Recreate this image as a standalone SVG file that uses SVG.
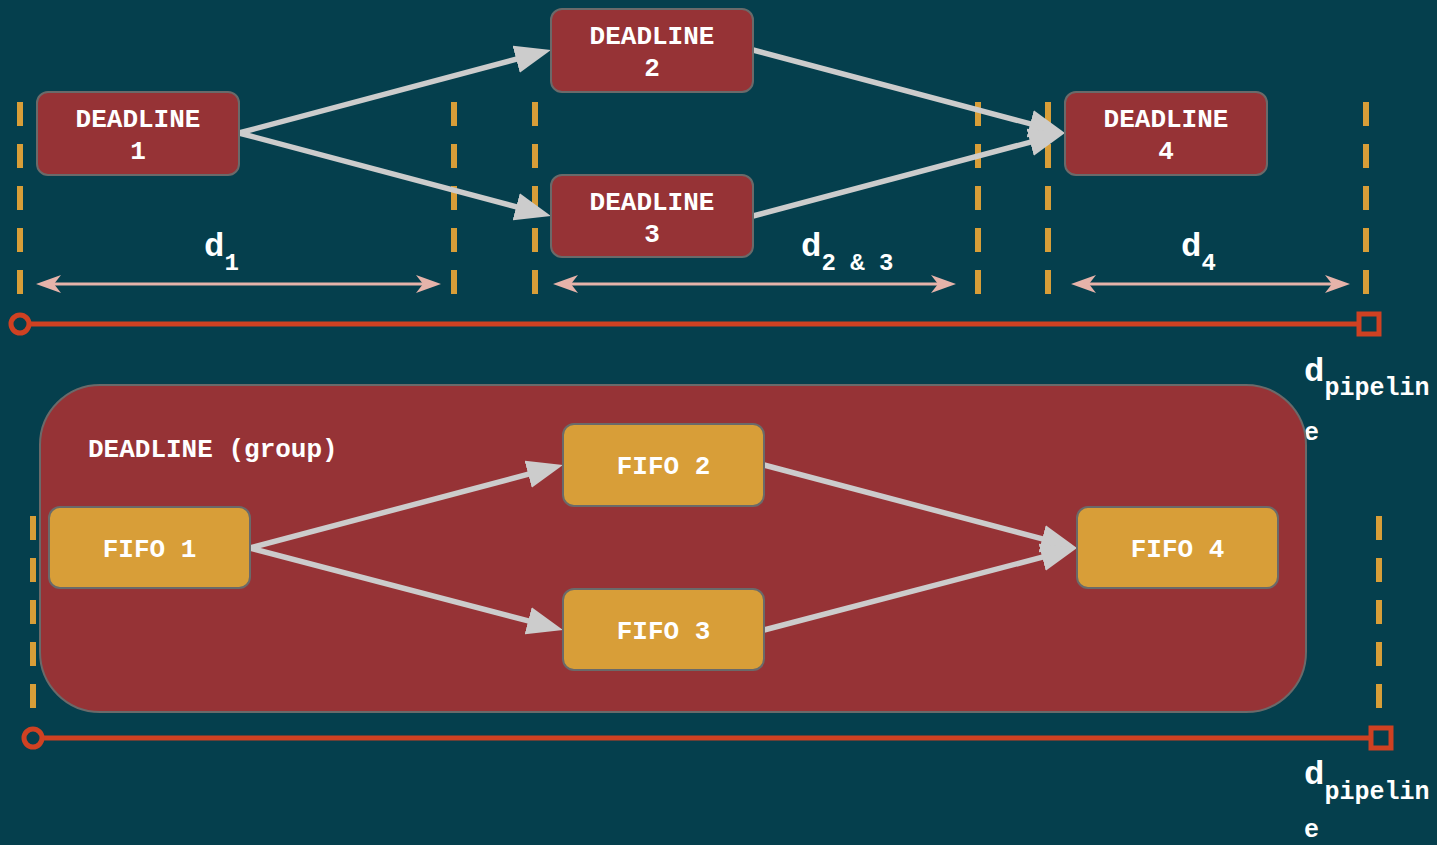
<svg xmlns="http://www.w3.org/2000/svg" width="1437" height="845" viewBox="0 0 1437 845">
<style>
.bg{fill:#053f4d}
.dl{fill:#963336;stroke:#6a6a6a;stroke-width:2}
.ff{fill:#d89e38;stroke:#6a6a6a;stroke-width:2}
.t{font-family:"Liberation Mono","Courier New",monospace;font-weight:bold;font-size:26px;fill:#ffffff;text-anchor:middle}
.tl{font-family:"Liberation Mono","Courier New",monospace;font-weight:bold;fill:#ffffff}
.dash{stroke:#d89e38;stroke-width:6;stroke-dasharray:24 18;fill:none}
.edge{stroke:#cccccc;stroke-width:5.5;fill:none;marker-end:url(#ah)}
.span{stroke:#e6b3aa;stroke-width:3;fill:none;marker-start:url(#pa);marker-end:url(#pa)}
.pipe{stroke:#cf4122;stroke-width:5;fill:none}
</style>
<defs>
<marker id="ah" markerUnits="userSpaceOnUse" markerWidth="36" markerHeight="28" viewBox="0 0 36 28" refX="11" refY="14" orient="auto">
<path d="M0,0 L36,14 L0,28 z" fill="#cccccc"/>
</marker>
<marker id="pa" markerUnits="userSpaceOnUse" markerWidth="25" markerHeight="18" viewBox="0 0 25 18" refX="18" refY="9" orient="auto-start-reverse">
<path d="M0,0 L25,9 L0,18 L7,9 z" fill="#e6b3aa"/>
</marker>
</defs>
<rect class="bg" x="0" y="0" width="1437" height="845"/>

<g id="markers-top">
<line class="dash" x1="20" y1="102" x2="20" y2="294"/>
<line class="dash" x1="454" y1="102" x2="454" y2="294"/>
<line class="dash" x1="535" y1="102" x2="535" y2="294"/>
<line class="dash" x1="978" y1="102" x2="978" y2="294"/>
<line class="dash" x1="1048" y1="102" x2="1048" y2="294"/>
<line class="dash" x1="1366" y1="102" x2="1366" y2="294"/>
<line class="span" x1="43" y1="284" x2="434" y2="284"/>
<line class="span" x1="560" y1="284" x2="949" y2="284"/>
<line class="span" x1="1078" y1="284" x2="1343" y2="284"/>
<text class="tl" x="204" y="256" font-size="34">d<tspan font-size="24" dy="14">1</tspan></text>
<text class="tl" x="801" y="256" font-size="34">d<tspan font-size="24" dy="14">2 &amp; 3</tspan></text>
<text class="tl" x="1181" y="256" font-size="34">d<tspan font-size="24" dy="14">4</tspan></text>
<line class="pipe" x1="29" y1="324" x2="1359" y2="324"/>
<circle cx="20" cy="324" r="9" fill="#053f4d" stroke="#cf4122" stroke-width="5"/>
<rect x="1359" y="314" width="20" height="20" fill="#053f4d" stroke="#cf4122" stroke-width="5"/>
<text class="tl" x="1304" y="381" font-size="34">d<tspan font-size="25" dy="14">pipelin</tspan></text>
<text class="tl" x="1304" y="440" font-size="25">e</text>
</g>

<g id="deadline-group">
<rect x="40" y="385" width="1266" height="327" rx="60" class="dl"/>
<text class="tl" x="88" y="457" font-size="26">DEADLINE (group)</text>
</g>

<g id="markers-bottom">
<line class="dash" x1="33" y1="516" x2="33" y2="708"/>
<line class="dash" x1="1379" y1="516" x2="1379" y2="708"/>
<line class="pipe" x1="42" y1="738" x2="1371" y2="738"/>
<circle cx="33" cy="738" r="9" fill="#053f4d" stroke="#cf4122" stroke-width="5"/>
<rect x="1371" y="728" width="20" height="20" fill="#053f4d" stroke="#cf4122" stroke-width="5"/>
<text class="tl" x="1304" y="784" font-size="34">d<tspan font-size="25" dy="15">pipelin</tspan></text>
<text class="tl" x="1304" y="837" font-size="25">e</text>
</g>

<g id="edges">
<path class="edge" d="M239,133 L526.8,56.4"/>
<path class="edge" d="M239,133 L526.8,209.6"/>
<path class="edge" d="M753,50 L1040.8,126.6"/>
<path class="edge" d="M753,216 L1040.8,139.4"/>
<path class="edge" d="M250,548 L538.8,471.4"/>
<path class="edge" d="M250,548 L538.8,623.6"/>
<path class="edge" d="M764,465 L1052.8,541.6"/>
<path class="edge" d="M764,630 L1052.8,554.4"/>
</g>

<g id="deadline1">
<rect x="37" y="92" width="202" height="83" rx="11" class="dl"/>
<text class="t" x="138" y="127">DEADLINE</text>
<text class="t" x="138" y="159">1</text>
</g>
<g id="deadline2">
<rect x="551" y="9" width="202" height="83" rx="11" class="dl"/>
<text class="t" x="652" y="44">DEADLINE</text>
<text class="t" x="652" y="76">2</text>
</g>
<g id="deadline3">
<rect x="551" y="175" width="202" height="82" rx="11" class="dl"/>
<text class="t" x="652" y="210">DEADLINE</text>
<text class="t" x="652" y="242">3</text>
</g>
<g id="deadline4">
<rect x="1065" y="92" width="202" height="83" rx="11" class="dl"/>
<text class="t" x="1166" y="127">DEADLINE</text>
<text class="t" x="1166" y="159">4</text>
</g>

<g id="fifo1">
<rect x="49" y="507" width="201" height="81" rx="11" class="ff"/>
<text class="t" x="149.5" y="557">FIFO 1</text>
</g>
<g id="fifo2">
<rect x="563" y="424" width="201" height="82" rx="11" class="ff"/>
<text class="t" x="663.5" y="474">FIFO 2</text>
</g>
<g id="fifo3">
<rect x="563" y="589" width="201" height="81" rx="11" class="ff"/>
<text class="t" x="663.5" y="639">FIFO 3</text>
</g>
<g id="fifo4">
<rect x="1077" y="507" width="201" height="81" rx="11" class="ff"/>
<text class="t" x="1177.5" y="557">FIFO 4</text>
</g>
</svg>
